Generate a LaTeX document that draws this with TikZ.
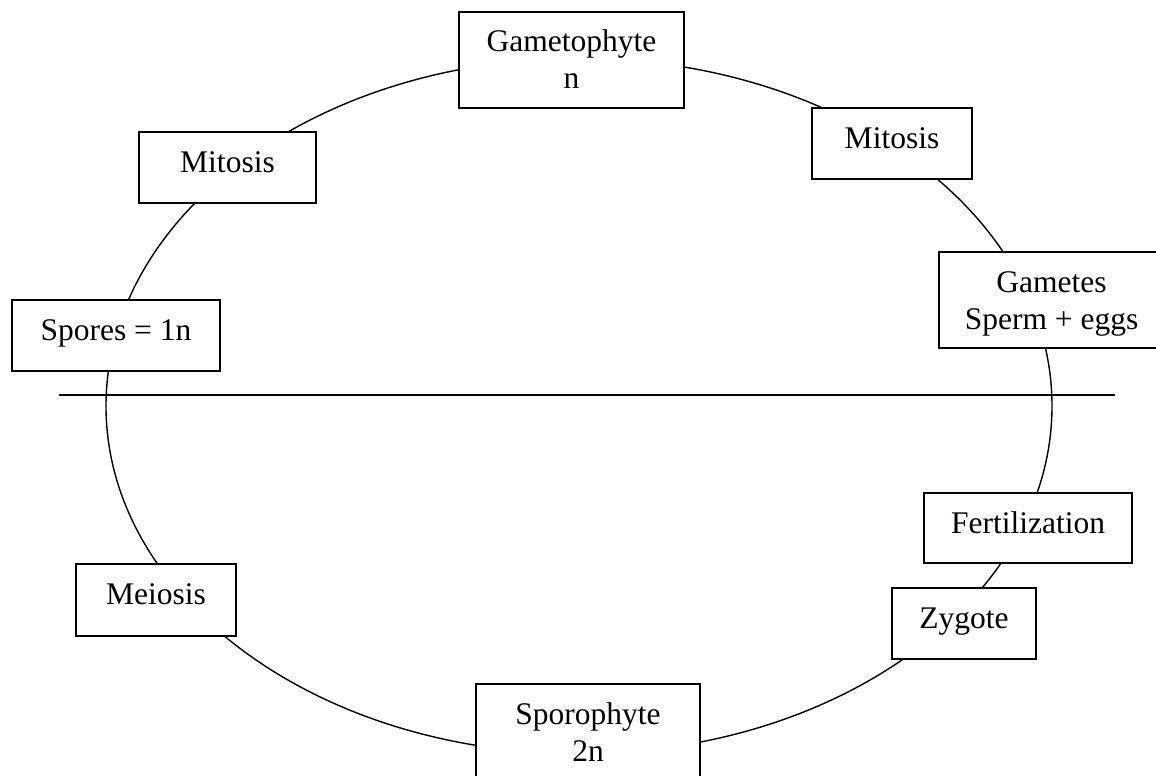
\documentclass[tikz,border=0pt]{standalone}
\usepackage{fontspec}
\setmainfont{Liberation Serif}
\newcommand{\twolines}[2]{\begin{tabular}[t]{@{}c@{}}#1\\#2\end{tabular}}
\begin{document}
\begin{tikzpicture}[x=1pt,y=-1pt,
  box/.style={draw, line width=2pt, fill=white, inner xsep=0pt, inner ysep=0pt,
    anchor=north west, text height=40pt, align=center,
    font=\fontsize{31.5}{37}\selectfont},
  oneline/.style={box, text depth=31pt},
  twoline/.style={box, text depth=56pt},
  cycleline/.style={line width=1.4pt},
  divider/.style={line width=1.6pt}]
\useasboundingbox (0,0) rectangle (1156,776);
\clip (0,0) rectangle (1156,776);
% life cycle ellipse
\draw[cycleline] (579,406) ellipse [x radius=473pt, y radius=347.6pt];
% haploid / diploid divider
\coordinate (divL) at (59,395);
\coordinate (divR) at (1115,395);
\draw[divider] (divL) -- (divR);
% stages
\node[twoline, minimum width=225pt] (gam) at (458,11) {\twolines{Gametophyte}{n}};
\node[oneline, minimum width=177pt] (mitL) at (138,131) {Mitosis};
\node[oneline, minimum width=160pt] (mitR) at (811,107) {Mitosis};
\node[oneline, minimum width=208pt] (spores) at (11,299) {Spores = 1n};
\node[twoline, minimum width=225pt] (gametes) at (938,251) {\twolines{Gametes}{Sperm + eggs}};
\node[oneline, minimum width=208pt, text depth=30pt] (fert) at (923,492) {Fertilization};
\node[oneline, minimum width=144pt] (zyg) at (891,587) {Zygote};
\node[oneline, minimum width=160pt, text depth=32pt] (meio) at (75,563) {Meiosis};
\node[twoline, minimum width=224pt] (spor) at (475,683) {\twolines{Sporophyte}{2n}};
\end{tikzpicture}
\end{document}
